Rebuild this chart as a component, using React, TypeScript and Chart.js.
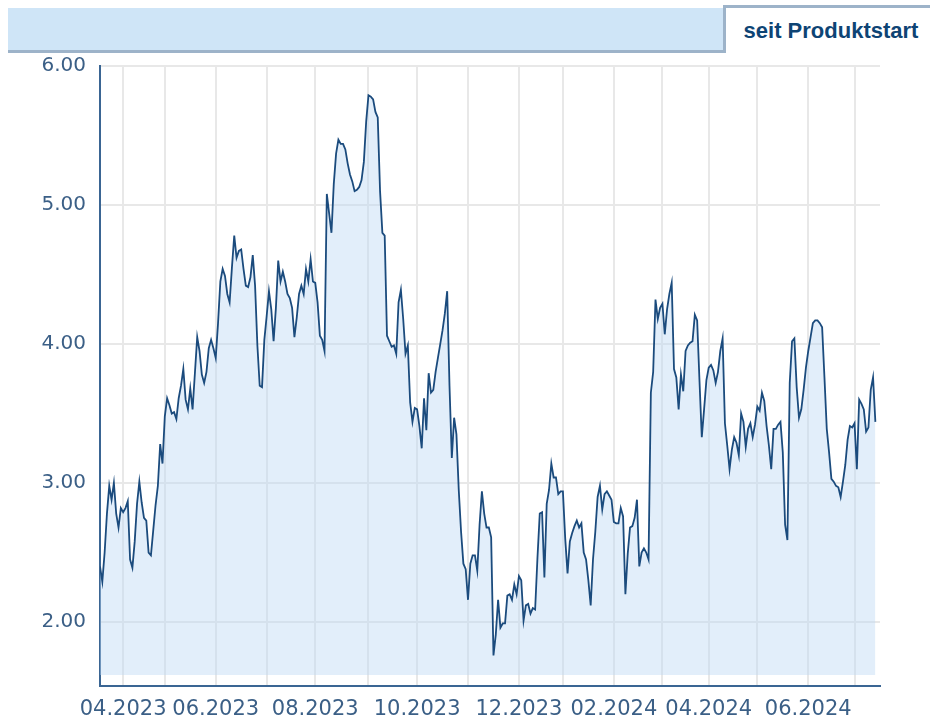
import React, { useEffect, useRef } from "react";
import { Chart, registerables } from "chart.js";

Chart.register(...registerables);

// trading-day index of first trading day of each month (Apr 2023 .. Jul 2024)
const monthTickIdx = [10, 28, 50, 72, 93, 116, 137, 159, 181, 200, 222, 243, 263, 284, 306, 326];
const monthLabels = [
  "04.2023", "", "06.2023", "", "08.2023", "", "10.2023", "", "12.2023", "",
  "02.2024", "", "04.2024", "", "06.2024", "",
];
const yTicks = [2, 3, 4, 5, 6];
const yMin = 1.54;
const yMax = 6.0;
const xMax = 337;
const fillBase = 1.62;

// daily values (trading days from 20.03.2023)
const prices = [
  2.40, 2.29, 2.50, 2.78, 2.98, 2.88, 3.00, 2.78, 2.68, 2.82,
  2.79, 2.82, 2.87, 2.45, 2.39, 2.58, 2.85, 3.01, 2.86, 2.75,
  2.73, 2.50, 2.48, 2.66, 2.84, 2.98, 3.28, 3.14, 3.48, 3.61,
  3.56, 3.50, 3.51, 3.46, 3.61, 3.70, 3.82, 3.60, 3.53, 3.68,
  3.53, 3.79, 4.05, 3.95, 3.78, 3.72, 3.80, 3.97, 4.03, 3.97,
  3.90, 4.15, 4.45, 4.54, 4.49, 4.36, 4.30, 4.55, 4.78, 4.62,
  4.67, 4.68, 4.54, 4.42, 4.41, 4.48, 4.64, 4.42, 3.99, 3.70,
  3.69, 4.03, 4.20, 4.38, 4.25, 4.02, 4.26, 4.60, 4.45, 4.52,
  4.45, 4.36, 4.33, 4.26, 4.05, 4.19, 4.36, 4.42, 4.36, 4.54,
  4.45, 4.61, 4.45, 4.44, 4.30, 4.06, 4.03, 3.95, 5.08, 4.94,
  4.80, 5.15, 5.37, 5.47, 5.44, 5.44, 5.40, 5.30, 5.22, 5.17,
  5.10, 5.11, 5.13, 5.18, 5.31, 5.60, 5.79, 5.78, 5.76, 5.67,
  5.63, 5.10, 4.80, 4.78, 4.06, 4.02, 3.98, 3.99, 3.93, 4.30,
  4.39, 4.18, 3.93, 3.99, 3.58, 3.44, 3.54, 3.53, 3.41, 3.25,
  3.61, 3.38, 3.79, 3.65, 3.67, 3.80, 3.90, 4.00, 4.10, 4.22,
  4.38, 3.70, 3.18, 3.47, 3.35, 2.95, 2.65, 2.42, 2.38, 2.16,
  2.42, 2.48, 2.48, 2.37, 2.70, 2.94, 2.78, 2.68, 2.68, 2.61,
  1.76, 1.91, 2.16, 1.96, 1.99, 1.99, 2.19, 2.20, 2.16, 2.27,
  2.20, 2.33, 2.30, 2.01, 2.12, 2.13, 2.06, 2.10, 2.09, 2.46,
  2.78, 2.79, 2.32, 2.85, 2.95, 3.14, 3.04, 3.04, 2.92, 2.94,
  2.94, 2.60, 2.35, 2.58, 2.64, 2.69, 2.73, 2.68, 2.71, 2.50,
  2.45, 2.30, 2.12, 2.45, 2.65, 2.90, 2.98, 2.81, 2.92, 2.94,
  2.91, 2.88, 2.72, 2.71, 2.71, 2.82, 2.76, 2.20, 2.49, 2.68,
  2.69, 2.75, 2.88, 2.40, 2.50, 2.53, 2.50, 2.45, 3.65, 3.80,
  4.32, 4.18, 4.26, 4.29, 4.07, 4.25, 4.36, 4.44, 3.82, 3.76,
  3.53, 3.78, 3.66, 3.95, 3.99, 4.01, 4.02, 4.21, 4.17, 3.74,
  3.33, 3.53, 3.74, 3.83, 3.85, 3.81, 3.72, 3.80, 3.95, 4.04,
  3.43, 3.27, 3.10, 3.24, 3.33, 3.29, 3.20, 3.50, 3.44, 3.26,
  3.39, 3.43, 3.33, 3.42, 3.55, 3.52, 3.65, 3.59, 3.41, 3.27,
  3.10, 3.39, 3.39, 3.42, 3.44, 3.22, 2.70, 2.59, 3.72, 4.02,
  4.04, 3.69, 3.47, 3.53, 3.67, 3.83, 3.95, 4.05, 4.15, 4.17,
  4.17, 4.15, 4.12, 3.76, 3.39, 3.22, 3.03, 3.01, 2.98, 2.97,
  2.90, 3.01, 3.13, 3.31, 3.41, 3.40, 3.43, 3.10, 3.60, 3.57,
  3.53, 3.37, 3.40, 3.67, 3.76, 3.44,
];

const tabLabel = "seit Produktstart";

export default function App() {
  const canvasRef = useRef<HTMLCanvasElement | null>(null);

  useEffect(() => {
    const canvas = canvasRef.current;
    if (!canvas) return;
    const labelColor = "#3b5f86";
    const chart = new Chart(canvas, {
      type: "line",
      data: {
        datasets: [
          {
            data: prices.map((v, i) => ({ x: i, y: v })),
            borderColor: "#1b4b7d",
            borderWidth: 1.8,
            pointRadius: 0,
            tension: 0,
            fill: { value: fillBase },
            backgroundColor: "rgba(185, 215, 242, 0.42)",
          },
        ],
      },
      options: {
        animation: false,
        responsive: false,
        maintainAspectRatio: false,
        layout: { padding: { left: 0, right: 50, top: 66, bottom: 0 } },
        plugins: {
          legend: { display: false },
          tooltip: { enabled: false },
          title: { display: false },
        },
        scales: {
          x: {
            type: "linear",
            min: 0,
            max: xMax,
            afterBuildTicks: (scale: any) => {
              scale.ticks = monthTickIdx.map((v) => ({ value: v }));
            },
            afterFit: (scale: any) => {
              scale.height = 31;
            },
            grid: { color: "#e8e8e8", lineWidth: 2, drawTicks: false },
            border: { display: true, color: "#3a6593", width: 2 },
            ticks: {
              autoSkip: false,
              maxRotation: 0,
              minRotation: 0,
              padding: 11,
              color: labelColor,
              font: { family: "DejaVu Sans", size: 21 },
              callback: (_v: any, i: number) => monthLabels[i],
            },
          },
          y: {
            type: "linear",
            min: yMin,
            max: yMax,
            afterBuildTicks: (scale: any) => {
              scale.ticks = yTicks.map((v) => ({ value: v }));
            },
            afterFit: (scale: any) => {
              scale.width = 100;
            },
            grid: { color: "#e8e8e8", lineWidth: 2, drawTicks: false },
            border: { display: true, color: "#3a6593", width: 2 },
            ticks: {
              padding: 14,
              color: labelColor,
              font: { family: "DejaVu Sans", size: 20 },
              callback: (v: any) => Number(v).toFixed(2),
            },
          },
        },
      },
    });
    return () => chart.destroy();
  }, []);

  return (
    <div style={{ position: "absolute", left: 0, top: 0, width: 930, height: 717, background: "#fff" }}>
      <div
        style={{
          position: "absolute",
          left: 8,
          top: 8,
          width: 715,
          height: 42,
          background: "#cfe5f7",
          borderBottom: "3px solid #9db3c9",
        }}
      />
      <div
        style={{
          position: "absolute",
          left: 723,
          top: 5,
          width: 207,
          height: 48,
          background: "#fff",
          borderLeft: "3px solid #9db3c9",
          borderTop: "3px solid #9db3c9",
          boxSizing: "border-box",
          display: "flex",
          alignItems: "center",
          justifyContent: "center",
          fontFamily: "'Liberation Sans', Arial, sans-serif",
          fontWeight: "bold",
          fontSize: 22,
          color: "#0e4474",
          paddingTop: 1,
          paddingLeft: 6,
        }}
      >
        {tabLabel}
      </div>
      <canvas
        ref={canvasRef}
        width={930}
        height={717}
        style={{ position: "absolute", left: 0, top: 0, width: 930, height: 717 }}
      />
    </div>
  );
}
